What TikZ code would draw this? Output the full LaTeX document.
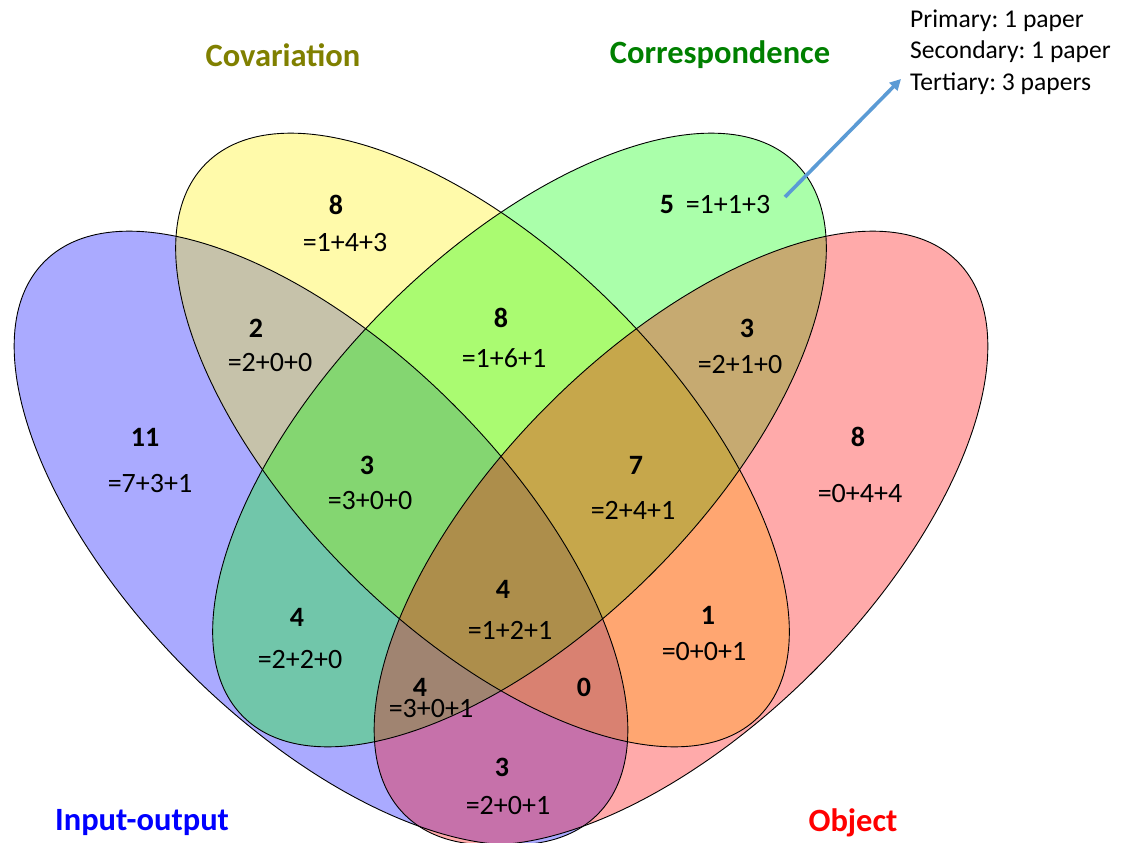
\documentclass[tikz,border=0pt]{standalone}
\usepackage{fontspec}
\setmainfont{Carlito}
\usetikzlibrary{arrows.meta}
\definecolor{arrowblue}{HTML}{5B9BD5}
\definecolor{covcol}{HTML}{808000}
\definecolor{corcol}{HTML}{008000}
\frenchspacing
\begin{document}
\begin{tikzpicture}[x=1pt,y=-1pt,
  outline/.style={draw=black, line width=0.9pt},
  num/.style={font=\fontsize{28}{28}\selectfont\bfseries, inner sep=0pt},
  sumtxt/.style={font=\fontsize{28}{28}\selectfont, inner sep=0pt},
  settitle/.style={font=\fontsize{32.5}{32.5}\selectfont\bfseries, inner sep=0pt}]
\fill[white] (0,0) rectangle (1122,843);
\useasboundingbox (0,0) rectangle (1122,843);
% fills
\fill[blue, fill opacity=0.3333, rotate around={-45:(321,538)}] (321,538) ellipse [x radius=391pt, y radius=188pt];
\fill[yellow, fill opacity=0.3333, rotate around={-45:(482.5,440)}] (482.5,440) ellipse [x radius=391pt, y radius=188pt];
\fill[green, fill opacity=0.3333, rotate around={45:(519.5,440)}] (519.5,440) ellipse [x radius=391pt, y radius=188pt];
\fill[red, fill opacity=0.3333, rotate around={45:(681,538)}] (681,538) ellipse [x radius=391pt, y radius=188pt];
% outlines
\draw[outline, rotate around={-45:(321,538)}] (321,538) ellipse [x radius=391pt, y radius=188pt];
\draw[outline, rotate around={-45:(482.5,440)}] (482.5,440) ellipse [x radius=391pt, y radius=188pt];
\draw[outline, rotate around={45:(519.5,440)}] (519.5,440) ellipse [x radius=391pt, y radius=188pt];
\draw[outline, rotate around={45:(681,538)}] (681,538) ellipse [x radius=391pt, y radius=188pt];
% titles
\node[settitle, text=covcol] (tcov) at (283,55) {Covariation};
\node[settitle, text=corcol] (tcor) at (720,55) {Correspondence};
\node[settitle, text=blue] (tin) at (142,823) {Input-output};
\node[settitle, text=red] (tobj) at (853,823) {Object};
% region labels
\node[num] (n1) at (336,205) {8};
\node[sumtxt] (s1) at (345,243) {=1+4+3};
\node[num] (n2) at (501,318) {8};
\node[sumtxt] (s2) at (504,358) {=1+6+1};
\node[num] (n3) at (667,205) {5};
\node[sumtxt] (s3) at (728,205) {=1+1+3};
\node[num] (n4) at (256,328) {2};
\node[sumtxt] (s4) at (270,363) {=2+0+0};
\node[num] (n5) at (747,328) {3};
\node[sumtxt] (s5) at (740,365) {=2+1+0};
\node[num] (n6) at (145,437) {11};
\node[sumtxt] (s6) at (150,484) {=7+3+1};
\node[num] (n7) at (367,465) {3};
\node[sumtxt] (s7) at (370,501) {=3+0+0};
\node[num] (n8) at (636,465) {7};
\node[sumtxt] (s8) at (633,510) {=2+4+1};
\node[num] (n9) at (858,437) {8};
\node[sumtxt] (s9) at (860,494) {=0+4+4};
\node[num] (n10) at (297,617) {4};
\node[sumtxt] (s10) at (300,660) {=2+2+0};
\node[num] (n11) at (503,589) {4};
\node[sumtxt] (s11) at (510,630) {=1+2+1};
\node[num] (n12) at (708,615) {1};
\node[sumtxt] (s12) at (704,652) {=0+0+1};
\node[num] (n13) at (420,687) {4};
\node[sumtxt] (s13) at (431,709) {=3+0+1};
\node[num] (n14) at (584,687) {0};
\node[num] (n15) at (502,767) {3};
\node[sumtxt] (s15) at (508,806) {=2+0+1};
% note and arrow
\node[anchor=west, align=left, inner sep=0pt, font=\fontsize{25.6}{31.5}\selectfont] (note) at (910,52) {Primary: 1 paper\\Secondary: 1 paper\\Tertiary: 3 papers};
\coordinate (atail) at (785,197);
\coordinate (ahead) at (901,79);
\draw[arrowblue, line width=3.6pt, -{Triangle[length=11pt,width=11pt]}] (atail) -- (ahead);
\end{tikzpicture}
\end{document}
